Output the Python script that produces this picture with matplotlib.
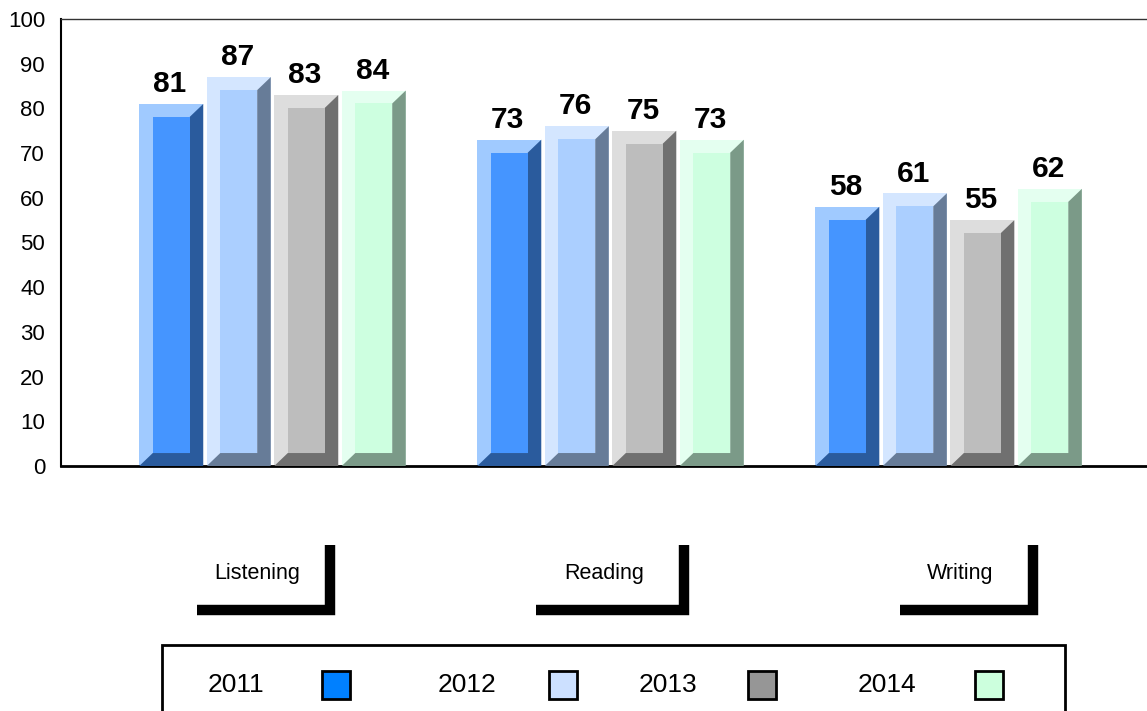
import numpy as np
import matplotlib.pyplot as plt
from matplotlib.patches import Polygon, Rectangle
import matplotlib.transforms as mtransforms

plt.rcParams['font.family'] = ['Liberation Sans', 'DejaVu Sans']

# ---- data ----
categories = ['Listening', 'Reading', 'Writing']
years = ['2011', '2012', '2013', '2014']
scores = {
    '2011': [81, 73, 58],
    '2012': [87, 76, 61],
    '2013': [83, 75, 55],
    '2014': [84, 73, 62],
}

# bevel colours per series: (light edge, front face, dark edge, legend swatch)
light_cols = ['#A0CAFF', '#D4E6FF', '#DDDDDD', '#E4FFF0']
face_cols = ['#4595FF', '#ABCFFF', '#BDBDBD', '#CDFFE0']
dark_cols = ['#2A5B9D', '#677C98', '#707070', '#7B9A88']
legend_cols = ['#0080FF', '#CCE0FF', '#969696', '#CCFFDD']

# category label boxes (left / right edge relative to category centre)
box_left = [-0.223, -0.220, -0.144]
box_right = [0.170, 0.218, 0.250]

W, H = 1147, 711
fig = plt.figure(figsize=(W / 100, H / 100), dpi=100)
ax = fig.add_axes([61 / W, (H - 466) / H, 1 - 61 / W, (466 - 19) / H])

pitch = 0.1997      # distance between neighbouring bars
bar_w = 0.1893      # outer width of one bar
bx = 0.040          # bevel size, x (data units)
by = 2.9            # bevel size, y (data units)

x = np.arange(len(categories))
for j, yr in enumerate(years):
    for i, h in enumerate(scores[yr]):
        xc = x[i] + (j - 1.5) * pitch
        x0, x1 = xc - bar_w / 2, xc + bar_w / 2
        # outer light rectangle (left + top faces)
        ax.add_patch(Rectangle((x0, 0), bar_w, h, facecolor=light_cols[j],
                               edgecolor='none', zorder=2))
        # dark right + bottom faces
        ax.add_patch(Polygon([(x0, 0), (x1, 0), (x1, h), (x1 - bx, h - by),
                              (x1 - bx, by), (x0 + bx, by)],
                             closed=True, facecolor=dark_cols[j],
                             edgecolor='none', zorder=3))
        # front face
        ax.add_patch(Rectangle((x0 + bx, by), bar_w - 2 * bx, h - 2 * by,
                               facecolor=face_cols[j], edgecolor='none', zorder=4))
        ax.annotate(str(h), (xc, h), xytext=(-1, 8.5), textcoords='offset points',
                    ha='center', va='baseline', fontsize=21.5, fontweight='bold',
                    zorder=5)

ax.set_xlim(-0.6257, 2.587)
ax.set_ylim(0, 100)
ax.set_yticks(np.arange(0, 101, 10))
ax.set_xticks([])
ax.tick_params(axis='y', length=0, pad=11.5, labelsize=16)
ax.spines['right'].set_visible(False)
ax.spines['left'].set_linewidth(1.5)
ax.spines['bottom'].set_linewidth(2)
ax.spines['top'].set_color('#333333')
ax.spines['top'].set_linewidth(1)

# category labels in "shadowed" boxes below the axis
trans = mtransforms.blended_transform_factory(ax.transData, fig.transFigure)
for i, cat in enumerate(categories):
    left, right = x[i] + box_left[i], x[i] + box_right[i]
    y_top, y_bot = 1 - 545 / H, 1 - 610 / H
    ax.plot([left, right, right], [y_bot, y_bot, y_top], color='black', lw=7.5,
            solid_capstyle='butt', solid_joinstyle='miter', transform=trans,
            clip_on=False)
    fig.text((left + right) / 2 - 0.018, 1 - 574 / H, cat, transform=trans,
             fontsize=15.5, ha='center', va='center')

# legend box at bottom
fig.patches.append(Rectangle((162 / W, -0.05), (1065 - 162) / W, 0.05 + (H - 645) / H,
                             transform=fig.transFigure, facecolor='none',
                             edgecolor='black', lw=2))
leg_text_x = [236, 467, 668, 887]
leg_box_x = [322, 549, 748, 975]
for j, yr in enumerate(years):
    fig.text(leg_text_x[j] / W, 1 - 685 / H, yr, fontsize=19,
             ha='center', va='center')
    fig.patches.append(Rectangle((leg_box_x[j] / W, 1 - 699 / H), 28 / W, 28 / H,
                                 transform=fig.transFigure,
                                 facecolor=legend_cols[j], edgecolor='black', lw=2))

fig.savefig('out.png', dpi=100)
